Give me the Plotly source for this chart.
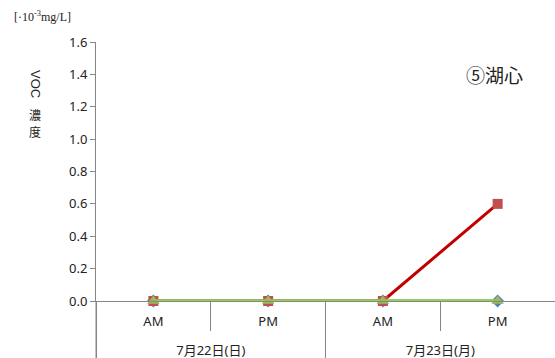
import plotly.graph_objects as go

days = ["7月22日(日)", "7月22日(日)", "7月23日(月)", "7月23日(月)"]
halves = ["AM", "PM", "AM", "PM"]
blue_vals = [0, 0, 0, 0]
red_vals = [0, 0, 0, 0.6]
green_vals = [0, 0, 0, 0]
y_ticks = [0.0, 0.2, 0.4, 0.6, 0.8, 1.0, 1.2, 1.4, 1.6]

# leading <br> pushes the date row further below the AM/PM row
x = [["<br>" + d for d in days], halves]
axis_grey = "#868686"
font_main = "Noto Sans, Noto Sans CJK JP"
txt = "#222222"

fig = go.Figure()
fig.add_trace(go.Scatter(x=x, y=blue_vals, mode="lines+markers",
                         line=dict(color="#4F81BD", width=3),
                         marker=dict(symbol="diamond", size=10, color="#4F81BD"),
                         cliponaxis=False))
fig.add_trace(go.Scatter(x=x, y=red_vals, mode="lines+markers",
                         line=dict(color="#C00000", width=3),
                         marker=dict(symbol="square", size=10, color="#C0504D"),
                         cliponaxis=False))
fig.add_trace(go.Scatter(x=x, y=green_vals, mode="lines+markers",
                         line=dict(color="#92D050", width=3.5),
                         marker=dict(symbol="triangle-up", size=11, color="#9BBB59"),
                         cliponaxis=False))

fig.update_layout(
    width=555, height=358,
    margin=dict(l=96, r=0, t=42, b=57),
    paper_bgcolor="white", plot_bgcolor="white",
    showlegend=False,
    font=dict(family=font_main, size=13, color=txt),
)
fig.update_xaxes(type="multicategory", range=[-0.5, 3.5], automargin=False,
                 showline=True, linecolor=axis_grey, linewidth=1,
                 ticks="outside", tickson="boundaries", ticklen=29, tickcolor=axis_grey,
                 ticklabelstandoff=8,
                 showdividers=True, dividercolor=axis_grey, dividerwidth=1,
                 showgrid=False, zeroline=False,
                 tickfont=dict(family=font_main, size=13, color=txt))
fig.update_yaxes(range=[0, 1.6], tickvals=y_ticks, tickformat=".1f", automargin=False,
                 showline=True, linecolor=axis_grey, linewidth=1,
                 ticks="outside", ticklen=5, tickcolor=axis_grey,
                 showgrid=False, zeroline=False,
                 tickfont=dict(family=font_main, size=13, color=txt))

# y axis line continues down through the category label area
fig.add_shape(type="line", xref="paper", yref="paper", x0=0, x1=0, y0=0, y1=-0.23,
              line=dict(color=axis_grey, width=1))

# vertical axis title: Latin part rotated, CJK characters upright and stacked
fig.add_annotation(text="VOC", textangle=90, xref="paper", yref="paper",
                   x=-0.133, xanchor="center", y=0.838, yanchor="middle", showarrow=False,
                   font=dict(family="Liberation Sans", size=13, color=txt))
fig.add_annotation(text="濃", xref="paper", yref="paper",
                   x=-0.133, xanchor="center", y=0.722, yanchor="middle", showarrow=False,
                   font=dict(family="Noto Sans CJK JP", size=12, color=txt))
fig.add_annotation(text="度", xref="paper", yref="paper",
                   x=-0.133, xanchor="center", y=0.656, yanchor="middle", showarrow=False,
                   font=dict(family="Noto Sans CJK JP", size=12, color=txt))
fig.add_annotation(text="[·10<sup>-3</sup>mg/L]", xref="paper", yref="paper",
                   x=-0.183, xanchor="left", y=1.1, yanchor="middle", showarrow=False,
                   font=dict(family="Liberation Serif", size=12, color=txt))
fig.add_annotation(text="⑤湖心", xref="paper", yref="paper",
                   x=0.869, xanchor="center", y=0.873, yanchor="middle", showarrow=False,
                   font=dict(family="Noto Sans CJK JP", size=19, color=txt))

# drop the default 8px page margin so the figure fills the window exactly
fig.write_html("out.html", config={"displayModeBar": False},
               post_script="document.body.style.margin='0';")
